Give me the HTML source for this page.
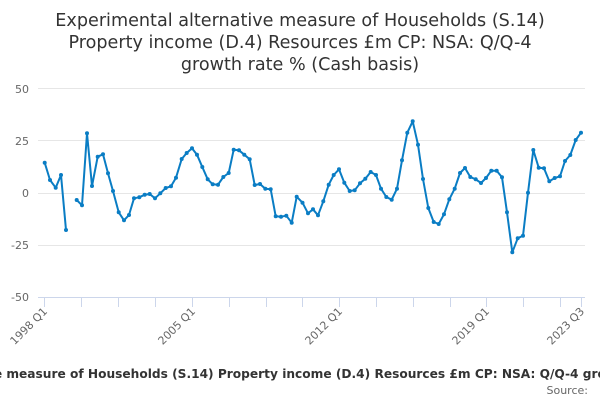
<!DOCTYPE html>
<html><head><meta charset="utf-8"><style>
html,body{margin:0;padding:0;background:#fff;}
svg{display:block;font-family:"DejaVu Sans","Liberation Sans",sans-serif;}
</style></head><body>
<svg width="600" height="400" viewBox="0 0 600 400" xmlns="http://www.w3.org/2000/svg">
<rect width="600" height="400" fill="#fff"/>
<g font-size="17.6" fill="#333" text-anchor="middle">
<text x="300" y="26">Experimental alternative measure of Households (S.14)</text>
<text x="300" y="48">Property income (D.4) Resources £m CP: NSA: Q/Q-4</text>
<text x="300" y="70">growth rate % (Cash basis)</text>
</g>
<g stroke="#e6e6e6" stroke-width="1">
<line x1="38" y1="88.5" x2="585" y2="88.5"/>
<line x1="38" y1="140.5" x2="585" y2="140.5"/>
<line x1="38" y1="193.5" x2="585" y2="193.5"/>
<line x1="38" y1="245.5" x2="585" y2="245.5"/>
</g>
<line x1="38" y1="297.5" x2="585" y2="297.5" stroke="#ccd6eb"/>
<g stroke="#ccd6eb">
<line x1="44.5" y1="297" x2="44.5" y2="307"/><line x1="81.5" y1="297" x2="81.5" y2="307"/><line x1="118.5" y1="297" x2="118.5" y2="307"/><line x1="155.5" y1="297" x2="155.5" y2="307"/><line x1="192.5" y1="297" x2="192.5" y2="307"/><line x1="229.5" y1="297" x2="229.5" y2="307"/><line x1="266.5" y1="297" x2="266.5" y2="307"/><line x1="302.5" y1="297" x2="302.5" y2="307"/><line x1="339.5" y1="297" x2="339.5" y2="307"/><line x1="376.5" y1="297" x2="376.5" y2="307"/><line x1="413.5" y1="297" x2="413.5" y2="307"/><line x1="450.5" y1="297" x2="450.5" y2="307"/><line x1="486.5" y1="297" x2="486.5" y2="307"/><line x1="523.5" y1="297" x2="523.5" y2="307"/><line x1="560.5" y1="297" x2="560.5" y2="307"/><line x1="581.5" y1="297" x2="581.5" y2="307"/>
</g>
<g font-size="11" fill="#666" text-anchor="end">
<text x="29" y="93">50</text><text x="29" y="145">25</text><text x="29" y="197">0</text><text x="29" y="249">-25</text><text x="29" y="301">-50</text>
</g>
<g font-size="11" fill="#666" text-anchor="end">
<text transform="translate(48,312) rotate(-45)">1998 Q1</text>
<text transform="translate(196,312) rotate(-45)">2005 Q1</text>
<text transform="translate(343,312) rotate(-45)">2012 Q1</text>
<text transform="translate(490,312) rotate(-45)">2019 Q1</text>
<text transform="translate(585,312) rotate(-45)">2023 Q3</text>
</g>
<g fill="none" stroke="#0a7dc4" stroke-width="2" stroke-linejoin="round">
<polyline points="44.7,162.7 50,180 55.7,187.7 61,175 66,230"/>
<polyline points="76.7,200 82,205.3 87,133.3 92,186 97.7,156.7 103,154.3 108,173.3 113,191 118.7,212.3 124,220.3 129,215 134,198.3 139.3,197.3 144.7,194.7 149.7,194 155,198.3 160.3,193.3 165.7,188 171,186.3 176,177.7 181.7,159 186.7,153 192,148.3 197,154.7 202.3,167 207.7,179.3 212.7,184.3 218,184.7 223.3,177 228.7,173 233.7,149.7 239,150.3 244.3,154.7 249.7,159.3 254.7,185 260,184 265.3,188.7 270.7,189.3 275.7,216.3 281,216.7 286.3,215.7 291.7,222.7 296.7,196.7 302.5,202.7 308,213.3 313,209.3 318,215.3 323.3,201.3 328.7,184.7 333.7,175 339,169.3 344.3,182.7 349.7,191 354.7,190.3 360,183.3 365.3,178.7 370.7,172 376,175 381,188.7 386.3,197 391.7,199.7 397,188.7 402,160.3 407.3,132.7 412.7,121.3 418,144.7 423,179 428.3,208 433.7,222 438.7,224 444,214.3 449.3,199.3 454.7,188.7 460,173 465,168 470.3,177 475.7,179.3 481,183 486,178 491.3,170.7 496.7,170.7 502,177.3 507,212.3 512.3,252.3 517.7,238.3 523,235.7 528,192.7 533.3,150 538.7,167.7 544,168.3 549.3,181.3 554.7,178 560,176.3 565,161 570.3,155 575.7,140 581,132.7"/>
</g>
<g fill="#0a7dc4">
<circle cx="44.7" cy="162.7" r="2"/><circle cx="50" cy="180" r="2"/><circle cx="55.7" cy="187.7" r="2"/><circle cx="61" cy="175" r="2"/><circle cx="66" cy="230" r="2"/>
<circle cx="76.7" cy="200" r="2"/><circle cx="82" cy="205.3" r="2"/><circle cx="87" cy="133.3" r="2"/><circle cx="92" cy="186" r="2"/><circle cx="97.7" cy="156.7" r="2"/><circle cx="103" cy="154.3" r="2"/><circle cx="108" cy="173.3" r="2"/><circle cx="113" cy="191" r="2"/><circle cx="118.7" cy="212.3" r="2"/><circle cx="124" cy="220.3" r="2"/><circle cx="129" cy="215" r="2"/><circle cx="134" cy="198.3" r="2"/><circle cx="139.3" cy="197.3" r="2"/><circle cx="144.7" cy="194.7" r="2"/><circle cx="149.7" cy="194" r="2"/><circle cx="155" cy="198.3" r="2"/><circle cx="160.3" cy="193.3" r="2"/><circle cx="165.7" cy="188" r="2"/><circle cx="171" cy="186.3" r="2"/><circle cx="176" cy="177.7" r="2"/><circle cx="181.7" cy="159" r="2"/><circle cx="186.7" cy="153" r="2"/><circle cx="192" cy="148.3" r="2"/><circle cx="197" cy="154.7" r="2"/><circle cx="202.3" cy="167" r="2"/><circle cx="207.7" cy="179.3" r="2"/><circle cx="212.7" cy="184.3" r="2"/><circle cx="218" cy="184.7" r="2"/><circle cx="223.3" cy="177" r="2"/><circle cx="228.7" cy="173" r="2"/><circle cx="233.7" cy="149.7" r="2"/><circle cx="239" cy="150.3" r="2"/><circle cx="244.3" cy="154.7" r="2"/><circle cx="249.7" cy="159.3" r="2"/><circle cx="254.7" cy="185" r="2"/><circle cx="260" cy="184" r="2"/><circle cx="265.3" cy="188.7" r="2"/><circle cx="270.7" cy="189.3" r="2"/><circle cx="275.7" cy="216.3" r="2"/><circle cx="281" cy="216.7" r="2"/><circle cx="286.3" cy="215.7" r="2"/><circle cx="291.7" cy="222.7" r="2"/><circle cx="296.7" cy="196.7" r="2"/><circle cx="302.5" cy="202.7" r="2"/><circle cx="308" cy="213.3" r="2"/><circle cx="313" cy="209.3" r="2"/><circle cx="318" cy="215.3" r="2"/><circle cx="323.3" cy="201.3" r="2"/><circle cx="328.7" cy="184.7" r="2"/><circle cx="333.7" cy="175" r="2"/><circle cx="339" cy="169.3" r="2"/><circle cx="344.3" cy="182.7" r="2"/><circle cx="349.7" cy="191" r="2"/><circle cx="354.7" cy="190.3" r="2"/><circle cx="360" cy="183.3" r="2"/><circle cx="365.3" cy="178.7" r="2"/><circle cx="370.7" cy="172" r="2"/><circle cx="376" cy="175" r="2"/><circle cx="381" cy="188.7" r="2"/><circle cx="386.3" cy="197" r="2"/><circle cx="391.7" cy="199.7" r="2"/><circle cx="397" cy="188.7" r="2"/><circle cx="402" cy="160.3" r="2"/><circle cx="407.3" cy="132.7" r="2"/><circle cx="412.7" cy="121.3" r="2"/><circle cx="418" cy="144.7" r="2"/><circle cx="423" cy="179" r="2"/><circle cx="428.3" cy="208" r="2"/><circle cx="433.7" cy="222" r="2"/><circle cx="438.7" cy="224" r="2"/><circle cx="444" cy="214.3" r="2"/><circle cx="449.3" cy="199.3" r="2"/><circle cx="454.7" cy="188.7" r="2"/><circle cx="460" cy="173" r="2"/><circle cx="465" cy="168" r="2"/><circle cx="470.3" cy="177" r="2"/><circle cx="475.7" cy="179.3" r="2"/><circle cx="481" cy="183" r="2"/><circle cx="486" cy="178" r="2"/><circle cx="491.3" cy="170.7" r="2"/><circle cx="496.7" cy="170.7" r="2"/><circle cx="502" cy="177.3" r="2"/><circle cx="507" cy="212.3" r="2"/><circle cx="512.3" cy="252.3" r="2"/><circle cx="517.7" cy="238.3" r="2"/><circle cx="523" cy="235.7" r="2"/><circle cx="528" cy="192.7" r="2"/><circle cx="533.3" cy="150" r="2"/><circle cx="538.7" cy="167.7" r="2"/><circle cx="544" cy="168.3" r="2"/><circle cx="549.3" cy="181.3" r="2"/><circle cx="554.7" cy="178" r="2"/><circle cx="560" cy="176.3" r="2"/><circle cx="565" cy="161" r="2"/><circle cx="570.3" cy="155" r="2"/><circle cx="575.7" cy="140" r="2"/><circle cx="581" cy="132.7" r="2"/>
</g>
<text x="300" y="378" font-size="12.2" font-weight="bold" fill="#333" text-anchor="middle">Experimental alternative measure of Households (S.14) Property income (D.4) Resources £m CP: NSA: Q/Q-4 growth rate % (Cash basis)</text>
<text x="588" y="394" font-size="11" fill="#666" text-anchor="end">Source:</text>
</svg>
</body></html>
